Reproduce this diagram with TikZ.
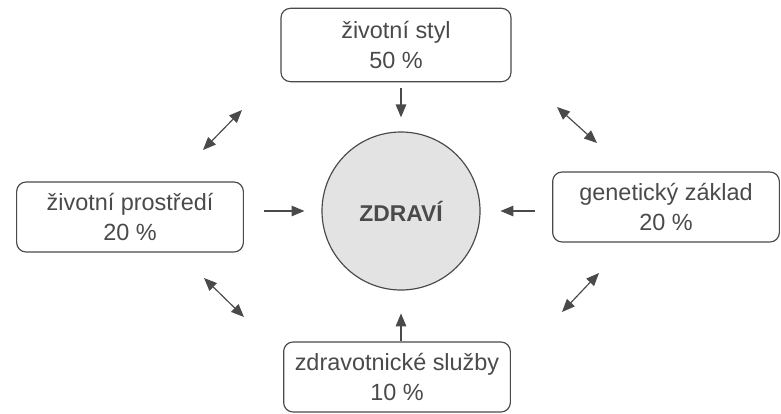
\documentclass[tikz,border=0pt]{standalone}
\usepackage{fontspec}
\setmainfont{Liberation Sans}
\usetikzlibrary{arrows.meta}
\definecolor{ink}{HTML}{4A4A4A}
\tikzset{
 factor/.style={draw=ink, rounded corners=8pt, line width=1pt, minimum width=6.8cm, minimum height=2.1cm, align=center, text=ink, font=\fontsize{20}{25}\selectfont},
 pointer/.style={-{Triangle[length=11pt,width=9pt]}, draw=ink, line width=1pt},
 mutual/.style={{Triangle[length=11pt,width=9pt]}-{Triangle[length=11pt,width=9pt]}, draw=ink, line width=1pt}
}

\begin{document}
\begin{tikzpicture}[x=0.03cm, y=-0.03cm]
\useasboundingbox (0,0) rectangle (781,413);
\node[circle, draw=ink, fill=gray!22, line width=1pt, minimum size=4.74cm, text=ink, font=\bfseries\fontsize{19.5}{24}\selectfont] (z) at (401,211) {ZDRAVÍ};
\node[factor, minimum width=6.9cm, minimum height=2.2cm] (s1) at (396,45) {životní styl\\50 \%};
\node[factor] (s2) at (130,217) {životní prostředí\\20 \%};
\node[factor] (s3) at (666,207) {genetický základ\\20 \%};
\node[factor] (s4) at (397,377) {zdravotnické služby\\10 \%};
\draw[pointer, shorten <=5pt, shorten >=12pt] (z.north |- s1.south) -- (z.north);
\draw[pointer, shorten <=17pt, shorten >=14.5pt] (s2.east |- z) -- (z.west);
\draw[pointer, shorten <=15pt, shorten >=17pt] (s3.west |- z) -- (z.east);
\draw[pointer, shorten <=0pt, shorten >=19.5pt] (z.south |- s4.north) -- (z.south);
\coordinate (a1) at (203,150); \coordinate (a2) at (242,110);
\coordinate (b1) at (557,107); \coordinate (b2) at (597,143);
\coordinate (c1) at (204,278); \coordinate (c2) at (244,317);
\coordinate (d1) at (562,312); \coordinate (d2) at (599,273);
\draw[mutual] (a1) -- (a2);
\draw[mutual] (b1) -- (b2);
\draw[mutual] (c1) -- (c2);
\draw[mutual] (d1) -- (d2);
\end{tikzpicture}
\end{document}
